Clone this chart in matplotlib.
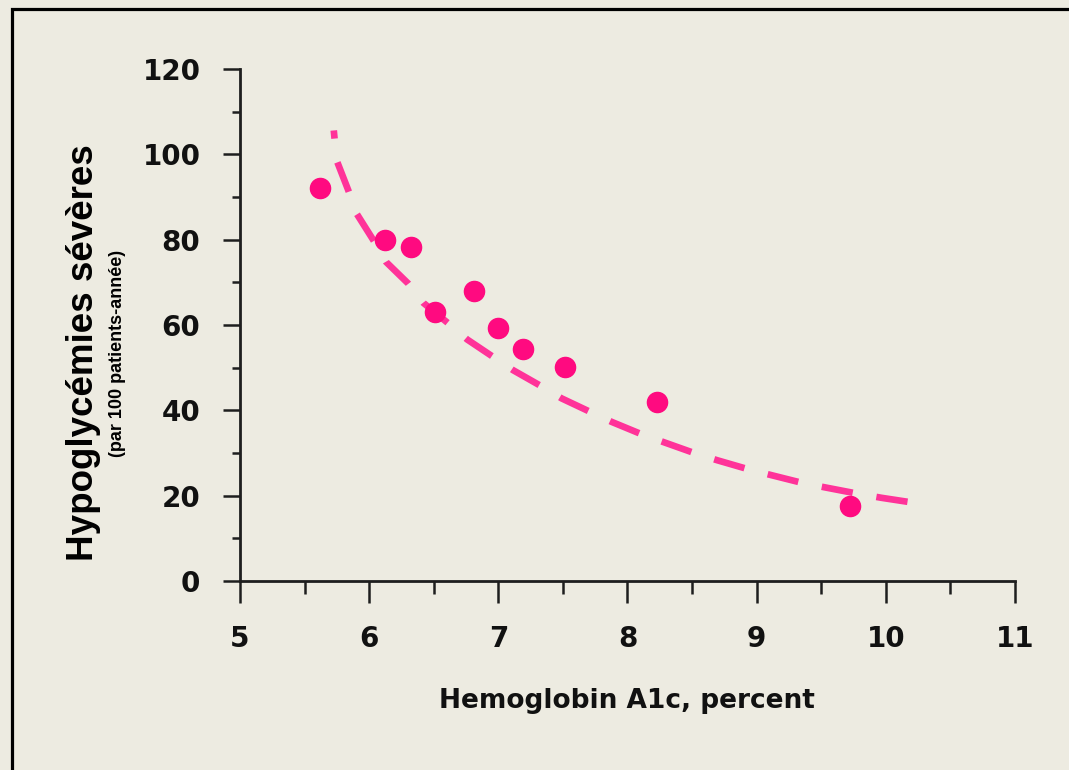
import matplotlib
matplotlib.use("Agg")
import matplotlib.pyplot as plt
from matplotlib.patches import Rectangle
from matplotlib.ticker import MultipleLocator

# ---- data ----
hba1c = [5.62, 6.12, 6.32, 6.51, 6.81, 7.00, 7.19, 7.52, 8.23, 9.72]
hypo_rate = [92.1, 79.9, 78.3, 63.1, 68.0, 59.4, 54.3, 50.2, 42.0, 17.6]

# dashed trend curve, points read along the drawn dashes
curve_x = [5.726, 5.748, 5.838, 5.903, 6.032, 6.130, 6.303, 6.419, 6.612, 6.759,
           6.961, 7.115, 7.330, 7.490, 7.714, 7.877, 8.109, 8.284, 8.516, 8.695,
           8.934, 9.115, 9.352, 9.536, 9.776, 9.966, 10.204]
curve_y = [105.6, 98.6, 91.6, 86.1, 79.9, 74.8, 69.7, 65.2, 60.4, 56.6,
           52.5, 49.4, 45.7, 42.8, 39.6, 37.3, 34.4, 32.5, 30.0, 28.3,
           26.2, 24.8, 23.0, 21.9, 20.5, 19.5, 18.4]

x_ticks = [5, 6, 7, 8, 9, 10, 11]
y_ticks = [0, 20, 40, 60, 80, 100, 120]

xlabel = "Hemoglobin A1c, percent"
ylabel = "Hypoglycémies sévères"
ylabel_sub = "(par 100 patients-année)"

BG = "#EDEBE1"
PINK_PT = "#FF0A80"
PINK_LN = "#FF3399"
DARK = "#1E1E1E"

W, H = 1069, 770
fig = plt.figure(figsize=(W / 100, H / 100), dpi=100, facecolor=BG)

def fx(px):
    return px / W

def fy(py):
    return 1 - py / H

ax = fig.add_axes([fx(240), fy(581), fx(1015) - fx(240), fy(69) - fy(581)])
ax.set_facecolor(BG)

ax.plot(curve_x, curve_y, color=PINK_LN, lw=4.8, linestyle=(3.5, (4.73, 3.6)),
        dash_capstyle="butt", solid_capstyle="butt", dash_joinstyle="round", zorder=2)
ax.plot(hba1c, hypo_rate, linestyle="none", marker="o", markersize=14.5,
        markerfacecolor=PINK_PT, markeredgecolor=PINK_PT, zorder=3)

ax.set_xlim(5, 11)
ax.set_ylim(0, 120)
ax.set_xticks(x_ticks)
ax.set_yticks(y_ticks)
ax.xaxis.set_minor_locator(MultipleLocator(0.5))
ax.yaxis.set_minor_locator(MultipleLocator(10))

for s in ["top", "right"]:
    ax.spines[s].set_visible(False)
for s in ["left", "bottom"]:
    ax.spines[s].set_linewidth(2.0)
    ax.spines[s].set_color(DARK)

ax.tick_params(axis="x", which="major", direction="out", length=16, width=1.8,
               color=DARK, pad=16, labelsize=20)
ax.tick_params(axis="x", which="minor", direction="out", length=9, width=1.8, color=DARK)
ax.tick_params(axis="y", which="major", direction="out", length=12.5, width=1.8,
               color=DARK, pad=16, labelsize=20)
ax.tick_params(axis="y", which="minor", direction="out", length=6, width=1.8, color=DARK)
for lab in ax.get_xticklabels() + ax.get_yticklabels():
    lab.set_fontweight("bold")
    lab.set_color("#111111")

fig.text(fx(627), fy(701), xlabel, ha="center", va="center", fontsize=19,
         fontweight="bold", family="DejaVu Sans", color="#111111")
fig.text(fx(84), fy(353), ylabel, rotation=90, ha="center", va="center",
         fontsize=26.5, fontweight="bold", family="Liberation Sans", color="black")
fig.text(fx(118), fy(353), ylabel_sub, rotation=90, ha="center", va="center",
         fontsize=13, fontweight="bold", family="Liberation Sans", color="black")

# outer frame (left and top edges visible, rest runs off the picture)
fig.add_artist(Rectangle((fx(11.5), -0.2), 2, fy(8.5) + 0.2, transform=fig.transFigure,
                         fill=False, lw=2.3, edgecolor="black"))

fig.savefig("out.png", dpi=100, facecolor=BG)
